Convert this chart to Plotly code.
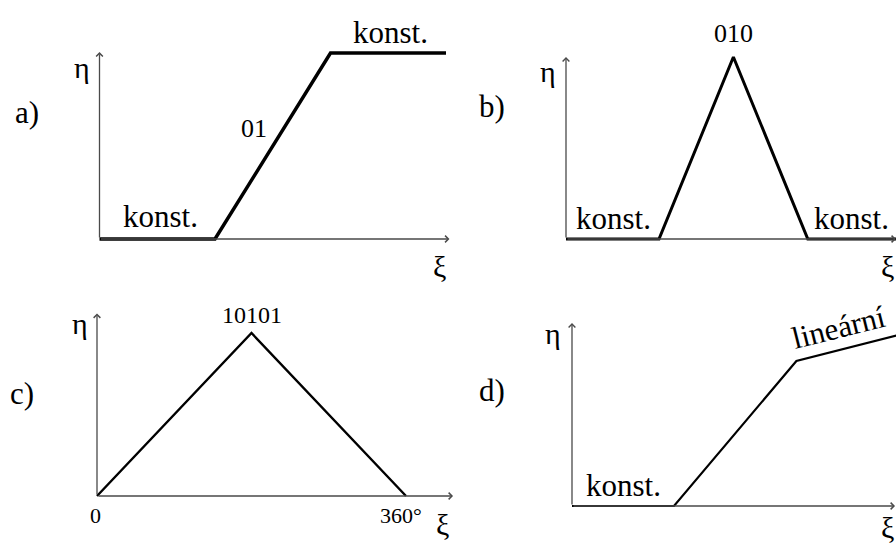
import plotly.graph_objects as go

W, H = 896, 546
FONT = "Liberation Serif, Times New Roman, DejaVu Serif, serif"

# --- characteristic curves eta(xi) for the four cases ---
a_xi = [0, 1, 2, 3]
a_eta = [0, 0, 1, 1]

b_xi = [0, 1, 1.8, 2.6, 3.6]
b_eta = [0, 0, 1, 0, 0]

c_xi = [0, 180, 360]
c_eta = [0, 1, 0]

d_xi = [0, 1, 2.2, 3.2]
d_eta = [0, 0, 1, 1.18]

# panel layout: origin (px), units (px per data unit), clip box (px), axis tips (data), line width
panels = [
    dict(name="a", xi=a_xi, eta=a_eta, origin=(99.5, 239), unit=(115.5, 186),
         box=(40, 10, 456, 272), tip=(3.03, 1.005), lw=3.5),
    dict(name="b", xi=b_xi, eta=b_eta, origin=(566, 239), unit=(93, 182),
         box=(500, 10, 896, 272), tip=(3.548, 1.0), lw=3.0),
    dict(name="c", xi=c_xi, eta=c_eta, origin=(97, 496), unit=(309 / 360, 163),
         box=(40, 282, 456, 540), tip=(414.8, 1.12), lw=2.4),
    dict(name="d", xi=d_xi, eta=d_eta, origin=(572, 506), unit=(102, 145),
         box=(500, 282, 896, 540), tip=(3.167, 1.262), lw=2.2),
]

fig = go.Figure()
annotations = []
AXIS_COLOR = "#4a4a4a"

for i, p in enumerate(panels, start=1):
    ox, oy = p["origin"]
    ux, uy = p["unit"]
    left, top, right, bottom = p["box"]
    xr = [(left - ox) / ux, (right - ox) / ux]
    yr = [(oy - bottom) / uy, (oy - top) / uy]
    sfx = "" if i == 1 else str(i)
    xa, ya = "x" + sfx, "y" + sfx
    ax_kw = dict(showgrid=False, zeroline=False, showticklabels=False, ticks="",
                 showline=False, fixedrange=True)
    fig.update_layout({
        "xaxis" + sfx: dict(domain=[left / W, right / W], range=xr, anchor=ya, **ax_kw),
        "yaxis" + sfx: dict(domain=[1 - bottom / H, 1 - top / H], range=yr, anchor=xa, **ax_kw),
    })
    # coordinate axes with arrowheads
    tx, ty = p["tip"]
    for hx, hy in [(tx, 0), (0, ty)]:
        annotations.append(dict(
            x=hx, y=hy, ax=0, ay=0, xref=xa, yref=ya, axref=xa, ayref=ya,
            text="", showarrow=True, arrowhead=4, arrowsize=1.0, arrowwidth=1.3,
            arrowcolor=AXIS_COLOR, standoff=0, startstandoff=0))
    fig.add_trace(go.Scatter(
        x=p["xi"], y=p["eta"], mode="lines", xaxis=xa, yaxis=ya,
        line=dict(color="black", width=p["lw"]), hoverinfo="skip", showlegend=False))


def label(text, px, py, size, angle=0):
    annotations.append(dict(
        text=text, x=px / W, y=1 - py / H, xref="paper", yref="paper",
        xanchor="center", yanchor="middle", showarrow=False, textangle=angle,
        font=dict(family=FONT, size=size, color="black")))


# panel a
label("a)", 27, 113, 31)
label("η", 82, 67, 30)
label("ξ", 439, 266, 30)
label("konst.", 160, 217, 31)
label("01", 254, 128, 26)
label("konst.", 390, 32, 31)
# panel b
label("b)", 492, 107, 31)
label("η", 548, 72, 30)
label("ξ", 887, 266, 30)
label("010", 733, 33, 26)
label("konst.", 613, 218, 31)
label("konst.", 851, 218, 31)
# panel c
label("c)", 22, 393, 31)
label("η", 80, 323, 30)
label("ξ", 442, 524, 30)
label("10101", 252, 315, 24)
label("0", 95, 515, 22)
label("360°", 401, 515, 22)
# panel d
label("d)", 492, 390, 31)
label("η", 553, 333, 30)
label("ξ", 887, 527, 30)
label("konst.", 623, 485, 31)
label("lineární", 838, 327, 31, angle=-14)

fig.update_layout(
    width=W, height=H, margin=dict(l=0, r=0, t=0, b=0),
    paper_bgcolor="white", plot_bgcolor="rgba(0,0,0,0)",
    annotations=annotations, showlegend=False,
)

fig.write_html("out.html", config={"displayModeBar": False})
